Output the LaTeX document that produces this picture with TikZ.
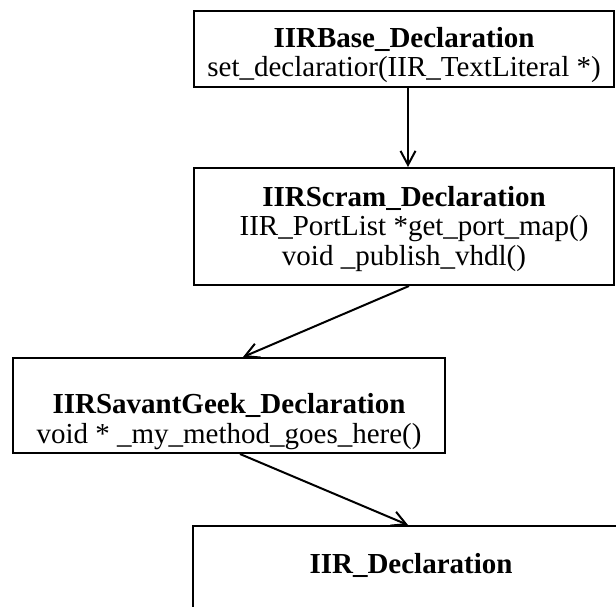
\documentclass[tikz,border=0pt]{standalone}
\usepackage{fontspec}
\setmainfont{Liberation Serif}
\usetikzlibrary{arrows.meta}
\begin{document}
\begin{tikzpicture}[x=1pt,y=-1pt,
  classbox/.style={draw, line width=2pt, align=center, inner sep=0pt,
    font=\fontsize{29}{29.5}\selectfont},
  arr/.style={line width=2pt, -{Straight Barb[length=14pt,width=15pt,line width=2pt]}}]
  \useasboundingbox (0,0) rectangle (616,607);
  \clip (0,0) rectangle (616,607);
  \node[classbox, minimum width=420pt, minimum height=76pt, text height=66pt, text depth=10pt] (b1) at (404,49)
    {\textbf{IIRBase\_Declaration}\\set\_declaratior(IIR\_TextLiteral *)};
  \node[classbox, minimum width=420pt, minimum height=117pt, text height=87pt, text depth=10pt] (b2) at (404,226.5)
    {\textbf{IIRScram\_Declaration}\\\hspace*{20pt}IIR\_PortList *get\_port\_map()\\void \_publish\_vhdl()};
  \node[classbox, minimum width=432pt, minimum height=95pt, text height=85pt, text depth=10pt] (b3) at (229,405.5)
    {\textbf{IIRSavantGeek\_Declaration}\\void * \_my\_method\_goes\_here()};
  \node[classbox, minimum width=476pt, minimum height=200pt, anchor=north west] (b4) at (192,525) {};
  \node[font=\fontsize{29}{29.5}\selectfont\bfseries, anchor=base] (t4) at (411,573) {IIR\_Declaration};
  \draw[arr] ([xshift=4pt]b1.south) -- ([xshift=4pt]b2.north);
  \draw[arr] ([xshift=5pt]b2.south) -- ([xshift=14pt]b3.north);
  \draw[arr] ([xshift=11pt]b3.south) -- ([xshift=-23pt]b4.north);
\end{tikzpicture}
\end{document}
